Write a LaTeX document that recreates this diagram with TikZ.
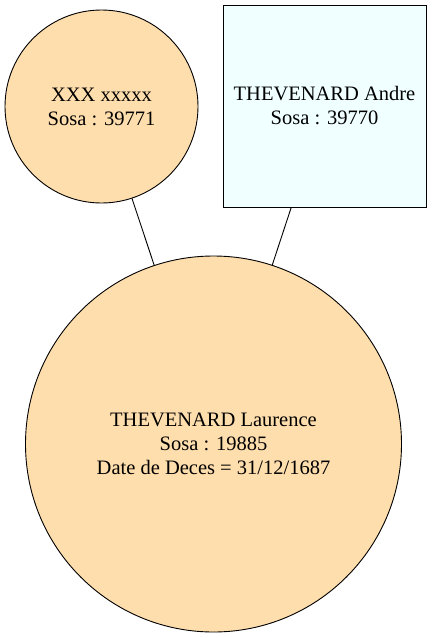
\documentclass[tikz,border=0pt]{standalone}
\usepackage{fontspec}
\setmainfont{Liberation Serif}
\definecolor{navajo}{RGB}{255,222,173}
\definecolor{azurefill}{RGB}{240,255,255}
\begin{document}
\begin{tikzpicture}[x=1pt,y=-1pt,
  person/.style={draw=black, line width=0.9pt, fill=navajo, inner sep=0pt,
    align=center, font=\fontsize{20.5}{24}\selectfont},
  link/.style={draw=black, line width=0.9pt}]
\useasboundingbox (0,0) rectangle (432,638);
\node[person, circle, minimum size=193pt] (m) at (101.5,106.5) {XXX xxxxx\\Sosa : 39771};
\node[person, rectangle, fill=azurefill, minimum width=203pt, minimum height=202pt] (f) at (324.5,106) {THEVENARD Andre\\Sosa : 39770};
\node[person, circle, minimum size=376pt] (c) at (213.5,444) {THEVENARD Laurence\\Sosa : 19885\\Date de Deces = 31/12/1687};
\draw[link] (m) -- (c);
\draw[link] (f) -- (c);
\end{tikzpicture}
\end{document}
